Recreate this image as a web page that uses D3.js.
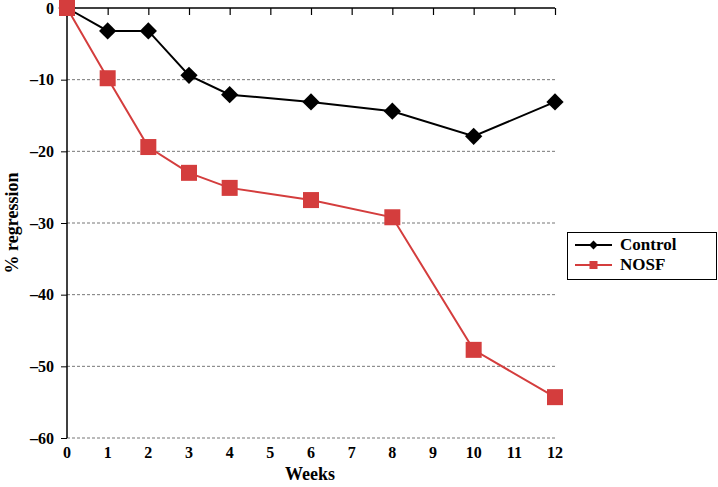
<!DOCTYPE html>
<html><head><meta charset="utf-8">
<script src="https://cdn.jsdelivr.net/npm/d3@7"></script>
<style>body{margin:0;background:#fff}svg{display:block}svg text{font-family:"Liberation Serif",Tinos,"Times New Roman",Times,"DejaVu Serif",serif !important;font-weight:bold}</style>
</head><body><svg id="c" width="718" height="487"></svg>
<script>
const weeks = [0,1,2,3,4,6,8,10,12];
const control = [0,-3.2,-3.2,-9.4,-12.1,-13.1,-14.4,-17.9,-13.1];
const nosf = [0,-9.8,-19.4,-23.0,-25.1,-26.8,-29.2,-47.7,-54.3];
const xTicks = [0,1,2,3,4,5,6,7,8,9,10,11,12];
const yTicks = [0,-10,-20,-30,-40,-50,-60];
const seriesNames = ["Control","NOSF"];
const colors = ["#000000","#d43d3d"];

const svg = d3.select("#c");
const x = d3.scaleLinear().domain([0,12]).range([67,555]);
const y = d3.scaleLinear().domain([0,-60]).range([8,438]);

// grid
svg.append("g").selectAll("line").data(yTicks.filter(d=>d!==0)).join("line")
  .attr("x1",x(0)).attr("x2",x(12)).attr("y1",d=>y(d)).attr("y2",d=>y(d))
  .attr("stroke","#777").attr("stroke-width",1).attr("stroke-dasharray","3,2");

// y axis
const ya = svg.append("g").attr("transform",`translate(${x(0)},0)`)
  .call(d3.axisLeft(y).tickValues(yTicks).tickSize(6).tickPadding(7).tickFormat(d=>d===0?"0":"\u2013"+Math.abs(d)));
ya.attr("font-family",null);
ya.select(".domain").attr("stroke","#000").attr("stroke-width",1.5).attr("d",`M0,${y(0)}V${y(-60)}`);
ya.selectAll("text").attr("font-size",16).attr("fill","#000");

// x axis at top (y=0) with ticks down
const xa = svg.append("g").attr("transform",`translate(0,${y(0)})`)
  .call(d3.axisBottom(x).tickValues(xTicks).tickSize(7).tickFormat(""));
xa.select(".domain").attr("stroke","#000").attr("stroke-width",1.5).attr("d",`M${x(0)},0H${x(12)}`);
xa.selectAll("line").attr("stroke-width",1.2);

// x tick labels below plot
svg.append("g").selectAll("text").data(xTicks).join("text")
  .attr("x",d=>x(d)).attr("y",458).attr("text-anchor","middle").attr("font-size",16).text(d=>d);

svg.append("text").attr("x",310).attr("y",480).attr("text-anchor","middle").attr("font-size",18).text("Weeks");
svg.append("text").attr("transform","translate(18,223) rotate(-90)").attr("text-anchor","middle").attr("font-size",18).text("% regression");

const line = d3.line().x((d,i)=>x(weeks[i])).y(d=>y(d));
const data = [control,nosf];
data.forEach((s,k)=>{
  svg.append("path").attr("d",line(s)).attr("fill","none").attr("stroke",colors[k]).attr("stroke-width",2);
});
// markers
svg.append("g").selectAll("path").data(control).join("path")
  .attr("transform",(d,i)=>`translate(${x(weeks[i])},${y(d)})`)
  .attr("d",d3.symbol(d3.symbolDiamond2,190)).attr("fill","#000");
svg.append("g").selectAll("rect").data(nosf).join("rect")
  .attr("x",(d,i)=>x(weeks[i])-8).attr("y",d=>y(d)-8).attr("width",16).attr("height",16).attr("fill",colors[1]);

// legend
const lg = svg.append("g");
lg.append("rect").attr("x",567.5).attr("y",232.5).attr("width",149).attr("height",47).attr("fill","#fff").attr("stroke","#000").attr("stroke-width",1);
seriesNames.forEach((n,k)=>{
  const yy = 245 + k*20;
  lg.append("line").attr("x1",575).attr("x2",612).attr("y1",yy).attr("y2",yy).attr("stroke",colors[k]).attr("stroke-width",2);
  if(k===0) lg.append("path").attr("transform",`translate(593.5,${yy})`).attr("d",d3.symbol(d3.symbolDiamond2,50)).attr("fill","#000");
  else lg.append("rect").attr("x",589.5).attr("y",yy-4).attr("width",8).attr("height",8).attr("fill",colors[1]);
  lg.append("text").attr("x",620).attr("y",yy+5).attr("font-size",17).text(n);
});
</script></body></html>
